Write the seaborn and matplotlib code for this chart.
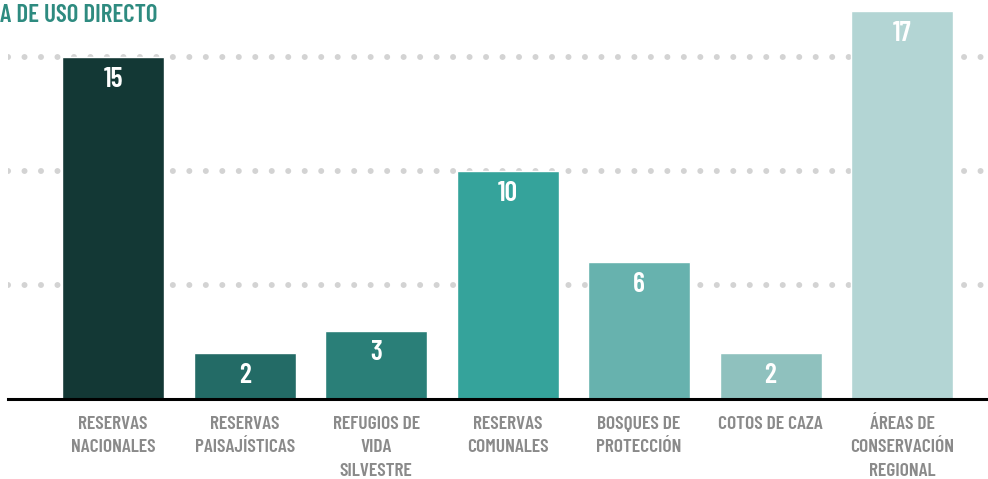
import numpy as np
import matplotlib.pyplot as plt
import pandas as pd
import seaborn as sns

# data
categories = ['RESERVAS\nNACIONALES', 'RESERVAS\nPAISAJÍSTICAS', 'REFUGIOS DE\nVIDA\nSILVESTRE',
              'RESERVAS\nCOMUNALES', 'BOSQUES DE\nPROTECCIÓN', 'COTOS DE CAZA',
              'ÁREAS DE\nCONSERVACIÓN\nREGIONAL']
values = [15, 2, 3, 10, 6, 2, 17]
colors = ['#133835', '#236b66', '#2a7f78', '#35a39b', '#67b2ae', '#8fc1be', '#b3d5d4']
title = 'A DE USO DIRECTO'

df = pd.DataFrame({'cat': categories, 'val': values})

sns.set_theme(style='white')
plt.rcParams['font.family'] = ['Barlow Condensed', 'DejaVu Sans']

fig = plt.figure(figsize=(9.88, 4.79), dpi=100)
ax = fig.add_axes([8/988, 80/479, 980/988, 399/479])

sns.barplot(data=df, x='cat', y='val', hue='cat', palette=colors, legend=False,
            width=0.776, saturation=1, ax=ax, zorder=2)

ax.set_xlim(-0.80, 6.654)
ax.set_ylim(0, 17.5)

# dotted grid lines
for g in [5, 10, 15]:
    ax.axhline(g, color='#d3d3d3', lw=4.3, linestyle=(0, (0.01, 2.75)),
               dash_capstyle='round', zorder=1)

# value labels
for i, v in enumerate(values):
    ax.annotate(str(v), (i, v), xytext=(0, -7), textcoords='offset points',
                ha='center', va='top', color='white', fontsize=20, fontweight=600)

for s in ['top', 'right', 'left']:
    ax.spines[s].set_visible(False)
ax.spines['bottom'].set_color('black')
ax.spines['bottom'].set_linewidth(2.2)

ax.set_yticks([])
ax.set_xlabel('')
ax.set_ylabel('')
ax.tick_params(axis='x', length=0, pad=12)
for lab in ax.get_xticklabels():
    lab.set_color('#8a8a8a')
    lab.set_fontsize(14)
    lab.set_fontweight(600)
    lab.set_linespacing(1.5)

fig.text(0, 1 - 15/479, title, ha='left', va='center', color='#2e8b80',
         fontsize=18, fontweight=600)

fig.savefig('out.png', dpi=100)
